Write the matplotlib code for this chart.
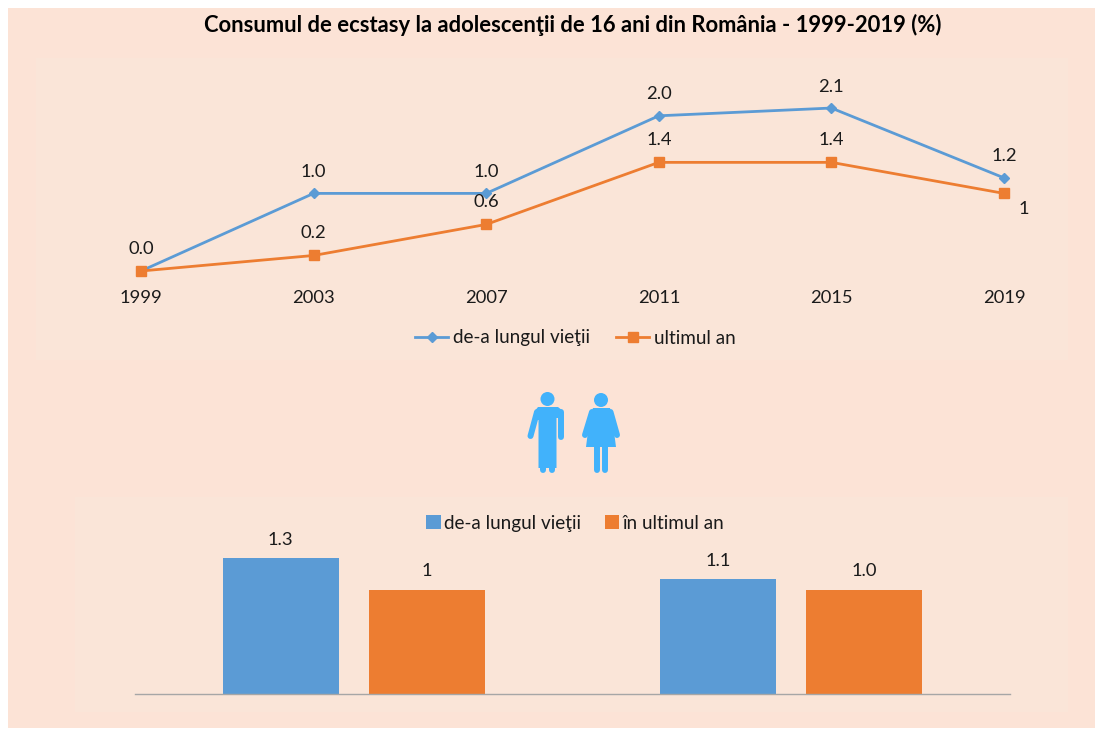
import matplotlib
matplotlib.use('Agg')
import matplotlib.pyplot as plt
from matplotlib.patches import Rectangle, Circle, Polygon

plt.rcParams['font.family'] = ['Lato', 'Open Sans', 'DejaVu Sans']

#data
years = ['1999', '2003', '2007', '2011', '2015', '2019']
lifetime = [0.0, 1.0, 1.0, 2.0, 2.1, 1.2]
last_year = [0.0, 0.2, 0.6, 1.4, 1.4, 1.0]
lifetime_labels = ['0.0', '1.0', '1.0', '2.0', '2.1', '1.2']
last_year_labels = ['', '0.2', '0.6', '1.4', '1.4', '1']

bar_lifetime = [1.3, 1.1]
bar_last_year = [1.0, 1.0]
bar_lifetime_labels = ['1.3', '1.1']
bar_last_year_labels = ['1', '1.0']

title = 'Consumul de ecstasy la adolescenţii de 16 ani din România - 1999-2019 (%)'

BLUE = '#5B9BD5'
ORANGE = '#ED7D31'
ICON = '#41B2FB'
TEXT = '#1a1a1a'
W, H = 1095, 729

fig = plt.figure(figsize=(W/100, H/100), dpi=100, facecolor='white')

def px_axes(left, top, right, bottom):
    return fig.add_axes([left/W, 1-bottom/H, (right-left)/W, (bottom-top)/H])

#background layer in pixel coordinates
bg = fig.add_axes([0, 0, 1, 1])
bg.set_xlim(0, W)
bg.set_ylim(H, 0)
bg.axis('off')
bg.add_patch(Rectangle((8, 8), W-8, H-9, fc='#FCE3D6', ec='none'))
bg.add_patch(Rectangle((36, 58), 1032, 302, fc='#FAE5D8', ec='none'))
bg.add_patch(Rectangle((75, 497), 993, 215, fc='#FAE5D8', ec='none'))

bg.text(572.5, 25, title, ha='center', va='center', fontsize=15.85, fontweight='bold', color='black')

#man icon
bg.add_patch(Circle((547.5, 399), 7, fc=ICON, ec='none'))
bg.add_patch(Polygon([(538, 407), (558, 407), (563, 411), (563, 418), (556.5, 418), (556.5, 468),
                      (538.5, 468), (538.5, 420), (534, 420), (534, 412)], fc=ICON, ec='none'))
man_strokes = [((537, 412), (530.5, 436)), ((560.5, 412), (560.5, 437)),
               ((543.2, 440), (543.2, 470)), ((551.8, 440), (551.8, 470))]
for a, b in man_strokes:
    bg.plot([a[0], b[0]], [a[1], b[1]], color=ICON, lw=4.3, solid_capstyle='round')

#woman icon
bg.add_patch(Circle((601, 400), 7, fc=ICON, ec='none'))
bg.add_patch(Polygon([(593, 408), (610, 408), (612, 416), (616, 447), (586, 447), (590, 416)], fc=ICON, ec='none'))
woman_strokes = [((592, 412), (585, 435)), ((610.5, 412), (617, 435)),
                 ((596.5, 445), (596.5, 470)), ((605, 445), (605, 470))]
for a, b in woman_strokes:
    bg.plot([a[0], b[0]], [a[1], b[1]], color=ICON, lw=4.3, solid_capstyle='round')

#line chart
ax1 = px_axes(54.7, 60, 1090.3, 271)
ax1.patch.set_alpha(0)
x = range(len(years))
ax1.plot(x, lifetime, color=BLUE, lw=2, marker='D', ms=5, label='de-a lungul vieţii', clip_on=False)
ax1.plot(x, last_year, color=ORANGE, lw=2, marker='s', ms=7, label='ultimul an', clip_on=False)
ax1.set_xlim(-0.5, 5.5)
ax1.set_ylim(0, 211/77.6)
ax1.set_yticks([])
ax1.set_xticks(list(x))
ax1.set_xticklabels(years, fontsize=13.2, color=TEXT)
ax1.tick_params(axis='x', length=0, pad=13.5)
for s in ax1.spines.values():
    s.set_visible(False)
for i, lab in enumerate(lifetime_labels):
    ax1.annotate(lab, (i, lifetime[i]), xytext=(0, 15.5), textcoords='offset points',
                 ha='center', va='center', fontsize=13.2, color=TEXT)
for i, lab in enumerate(last_year_labels):
    if lab == '1':
        ax1.annotate(lab, (i, last_year[i]), xytext=(14.5, -11), textcoords='offset points',
                     ha='center', va='center', fontsize=13.2, color=TEXT)
    elif lab:
        ax1.annotate(lab, (i, last_year[i]), xytext=(0, 16), textcoords='offset points',
                     ha='center', va='center', fontsize=13.2, color=TEXT)
ax1.legend(loc='center', bbox_to_anchor=(575.5/W, 1-338/H), bbox_transform=fig.transFigure,
           ncol=2, frameon=False, fontsize=13.6, labelcolor=TEXT, handlelength=1.75,
           handletextpad=0.25, columnspacing=1.4)

#bar chart
ax2 = px_axes(135, 500, 1010, 694)
ax2.patch.set_alpha(0)
centers = [0, 1]
bw = 116/437.5
off = 73/437.5
b1 = ax2.bar([c-off for c in centers], bar_lifetime, bw, color=BLUE, label='de-a lungul vieţii')
b2 = ax2.bar([c+off for c in centers], bar_last_year, bw, color=ORANGE, label='în ultimul an')
ax2.bar_label(b1, labels=bar_lifetime_labels, padding=7.5, fontsize=13.2, color=TEXT)
ax2.bar_label(b2, labels=bar_last_year_labels, padding=7.5, fontsize=13.2, color=TEXT)
ax2.set_xlim(-0.5, 1.5)
ax2.set_ylim(0, 194/104.5)
ax2.set_xticks([])
ax2.set_yticks([])
for s in ['top', 'left', 'right']:
    ax2.spines[s].set_visible(False)
ax2.spines['bottom'].set_color('#A6A6A6')
ax2.spines['bottom'].set_linewidth(1)
ax2.legend(loc='center', bbox_to_anchor=(575.5/W, 1-523.5/H), bbox_transform=fig.transFigure,
           ncol=2, frameon=False, fontsize=13.6, labelcolor=TEXT, handlelength=0.75, handleheight=0.75,
           handletextpad=0.2, columnspacing=1.25)

fig.savefig('out.png', dpi=100, facecolor='white')
